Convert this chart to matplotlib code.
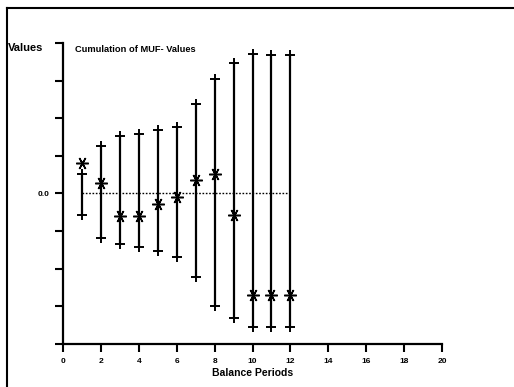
import matplotlib
matplotlib.use("Agg")
import matplotlib.pyplot as plt
from matplotlib.lines import Line2D

plt.rcParams['font.family'] = ['Liberation Sans', 'DejaVu Sans']
plt.rcParams['font.weight'] = 'bold'

# balance periods and cumulated MUF values (centre, lower / upper limits)
periods = [1, 2, 3, 4, 5, 6, 7, 8, 9, 10, 11, 12]
muf_cum = [0.80, 0.29, -0.61, -0.59, -0.27, -0.08, 0.35, 0.51, -0.56, -2.69, -2.69, -2.69]
lower = [-0.56, -1.17, -1.33, -1.41, -1.54, -1.70, -2.23, -3.00, -3.30, -3.54, -3.54, -3.54]
upper = [0.53, 1.25, 1.52, 1.57, 1.70, 1.76, 2.37, 3.03, 3.46, 3.70, 3.67, 3.67]

xticks = list(range(0, 21, 2))
yticks = [-4, -3, -2, -1, 0, 1, 2, 3, 4]
ylabels = ['', '', '', '', '0.0', '', '', '', '']

fig = plt.figure(figsize=(5.14, 3.87), dpi=100)
ax = fig.add_axes([63/514, 1 - 344/387, 379/514, 301/387])

ax.vlines(periods, lower, upper, color='black', lw=1.6)
ax.plot(periods, upper, '+', color='black', ms=7, mew=1.4)
ax.plot(periods, lower, '+', color='black', ms=7, mew=1.4)
ax.plot(periods, muf_cum, ls='none', marker=(6, 2, 90), color='black', ms=9, mew=1.1)
ax.plot([periods[0], periods[-1]], [0, 0], ls=(0, (1.2, 1.2)), color='black', lw=1)

ax.set_xlim(0, 20)
ax.set_ylim(-4, 4)
ax.set_xticks(xticks)
ax.set_xticklabels([str(t) for t in xticks], fontsize=6, fontweight='bold')
ax.set_yticks(yticks)
ax.set_yticklabels(ylabels, fontsize=6, fontweight='bold')
ax.tick_params(direction='out', length=6, width=1.5, pad=4)
for s in ['top', 'right']:
    ax.spines[s].set_visible(False)
for s in ['left', 'bottom']:
    ax.spines[s].set_linewidth(1.6)

ax.set_xlabel('Balance Periods', fontsize=7.5, fontweight='bold', labelpad=2)
fig.text(8/514, 1 - 48/387, 'Values', fontsize=8, fontweight='bold', va='center')
fig.text(75/514, 1 - 50/387, 'Cumulation of MUF- Values', fontsize=6.7,
         fontweight='bold', va='center')

# page frame (top and left edges)
fig.add_artist(Line2D([7/514, 1], [1 - 8/387, 1 - 8/387], color='black', lw=1.5))
fig.add_artist(Line2D([7/514, 7/514], [0, 1 - 8/387], color='black', lw=1.5))

fig.savefig('out.png', dpi=100)
